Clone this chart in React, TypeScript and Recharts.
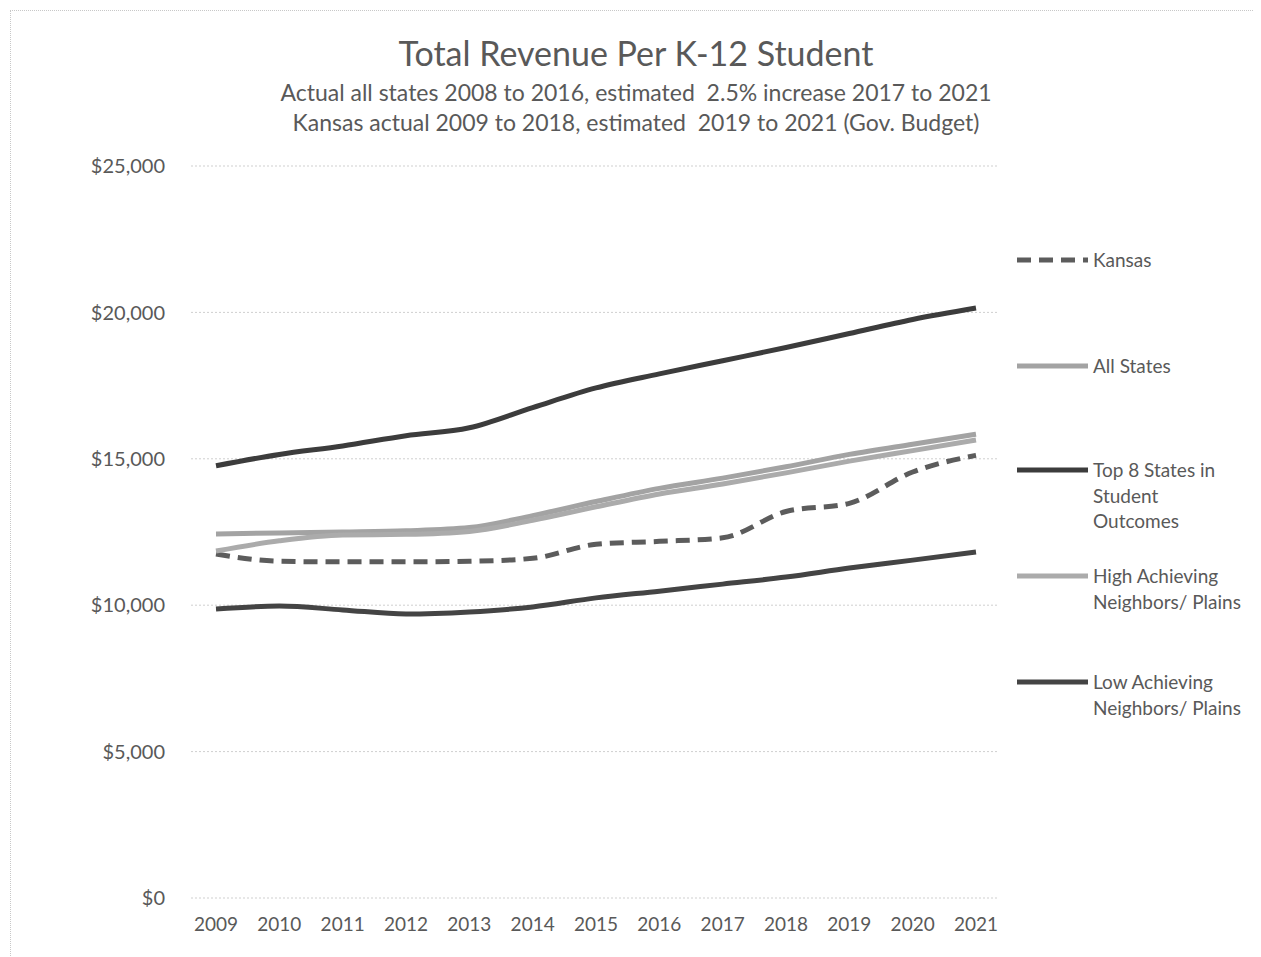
import React from 'react';
import { LineChart, Line, XAxis, YAxis, CartesianGrid } from 'recharts';

const years = ['2009', '2010', '2011', '2012', '2013', '2014', '2015', '2016', '2017', '2018', '2019', '2020', '2021'];

const kansas = [11750, 11500, 11480, 11480, 11500, 11600, 12080, 12180, 12300, 13200, 13480, 14550, 15120];
const allStates = [12430, 12470, 12500, 12540, 12650, 13060, 13540, 13990, 14340, 14730, 15150, 15500, 15840];
const top8 = [14760, 15150, 15440, 15790, 16060, 16750, 17420, 17900, 18350, 18800, 19280, 19760, 20150];
const highAchieving = [11850, 12200, 12400, 12420, 12520, 12900, 13360, 13800, 14140, 14520, 14920, 15280, 15640];
const lowAchieving = [9870, 9970, 9840, 9700, 9770, 9940, 10250, 10480, 10720, 10960, 11270, 11540, 11820];

const yTicks = [0, 5000, 10000, 15000, 20000, 25000];

const series = [
  { key: 'kansas', label: ['Kansas'], color: '#5c5c5c', dash: '14 8', width: 5 },
  { key: 'allStates', label: ['All States'], color: '#a3a3a3', dash: undefined, width: 5 },
  { key: 'top8', label: ['Top 8 States in', 'Student', 'Outcomes'], color: '#3c3c3c', dash: undefined, width: 5 },
  { key: 'highAchieving', label: ['High Achieving', 'Neighbors/ Plains'], color: '#ababab', dash: undefined, width: 5 },
  { key: 'lowAchieving', label: ['Low Achieving', 'Neighbors/ Plains'], color: '#444444', dash: undefined, width: 5 },
];

const legendTops = [236, 342, 446, 552, 658];

const data = years.map((year, i) => ({
  year,
  kansas: kansas[i],
  allStates: allStates[i],
  top8: top8[i],
  highAchieving: highAchieving[i],
  lowAchieving: lowAchieving[i],
}));

const font = 'Lato, "Open Sans", sans-serif';

const fmt = (v: number) => '$' + v.toLocaleString('en-US');

export default function App() {
  return (
    <div
      style={{
        position: 'relative',
        width: 1245,
        height: 950,
        marginLeft: 2,
        marginTop: 2,
        border: '1px dotted #c8c8c8',
        fontFamily: font,
        background: '#fff',
      }}
    >
      <div style={{ position: 'absolute', top: 22, left: 0, width: 1250, textAlign: 'center', fontSize: 34, lineHeight: '40px', color: '#595959' }}>
        Total Revenue Per K-12 Student
      </div>
      <div style={{ position: 'absolute', top: 66, left: 0, width: 1250, textAlign: 'center', fontSize: 23, lineHeight: '30px', color: '#595959' }}>
        Actual all states 2008 to 2016, estimated&nbsp; 2.5% increase 2017 to 2021
        <br />
        Kansas actual 2009 to 2018, estimated&nbsp; 2019 to 2021 (Gov. Budget)
      </div>

      <LineChart
        width={1245}
        height={945}
        data={data}
        margin={{ top: 155, right: 258, left: 100, bottom: 28 }}
      >
        <CartesianGrid vertical={false} stroke="#cfcfcf" strokeDasharray="2 2" />
        <XAxis
          dataKey="year"
          axisLine={false}
          tickLine={false}
          padding={{ left: 25, right: 22 }}
          height={30}
          tickMargin={14}
          interval={0}
          tick={{ fontSize: 19, fill: '#595959', fontFamily: font }}
        />
        <YAxis
          domain={[0, 25000]}
          ticks={yTicks}
          width={80}
          axisLine={false}
          tickLine={false}
          tickSize={0}
          tickMargin={26}
          tickFormatter={fmt}
          tick={{ fontSize: 20, fill: '#595959', fontFamily: font }}
        />
        {series.map((s) => (
          <Line
            key={s.key}
            type="monotone"
            dataKey={s.key}
            stroke={s.color}
            strokeWidth={s.width}
            strokeDasharray={s.dash}
            dot={false}
            isAnimationActive={false}
          />
        ))}
      </LineChart>

      {series.map((s, i) => (
        <div key={s.key} style={{ position: 'absolute', top: legendTops[i], left: 1004, display: 'flex', alignItems: 'flex-start' }}>
          <svg width={75} height={26}>
            <line x1={2} y1={13} x2={73} y2={13} stroke={s.color} strokeWidth={s.width} strokeDasharray={s.dash} />
          </svg>
          <div style={{ marginLeft: 3, fontSize: 19, lineHeight: '25.5px', color: '#595959', whiteSpace: 'nowrap' }}>
            {s.label.map((t) => (
              <div key={t}>{t}</div>
            ))}
          </div>
        </div>
      ))}
    </div>
  );
}
